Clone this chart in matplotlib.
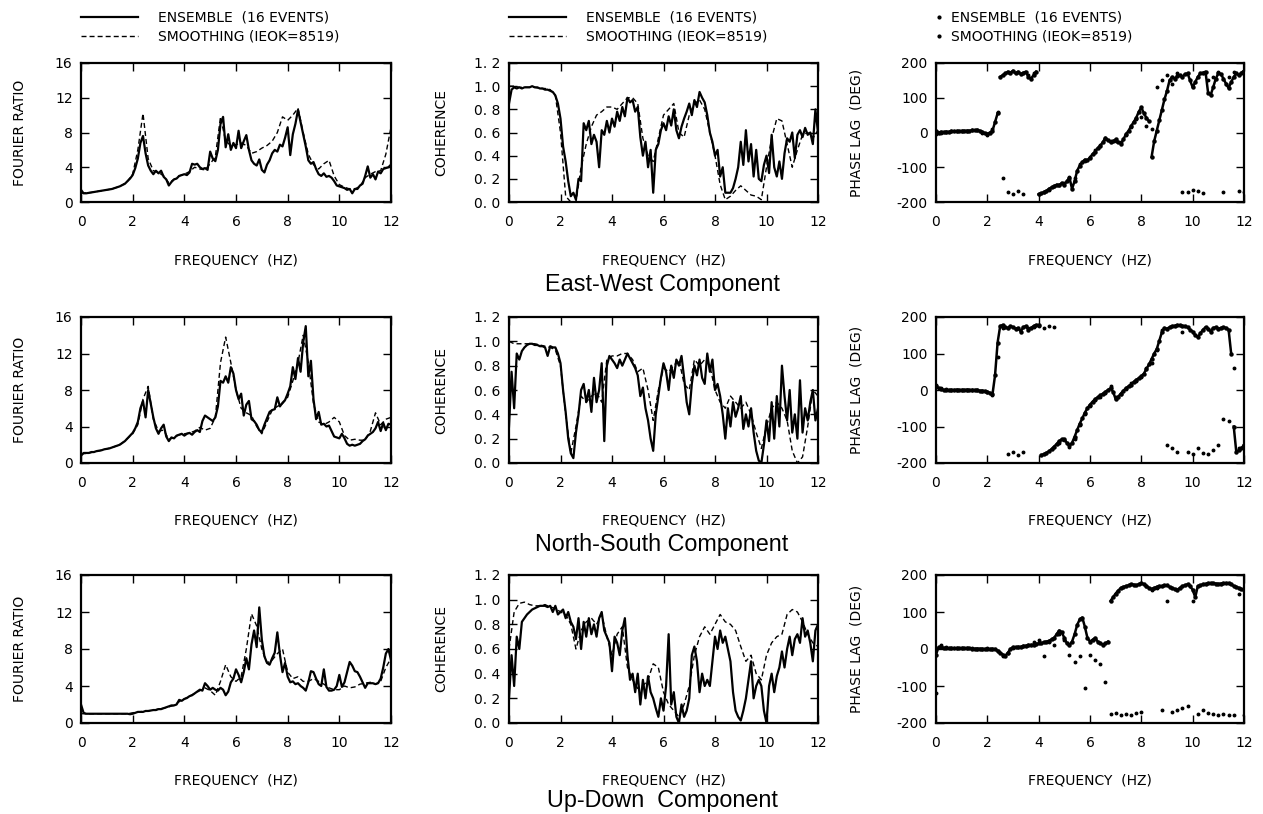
import numpy as np
import matplotlib
matplotlib.use("Agg")
import matplotlib.pyplot as plt
from matplotlib.lines import Line2D

plt.rcParams['font.family'] = ['DejaVu Sans']

W, H = 1263, 814
FS = 10

# frequency grids (Hz): ensemble every 0.1 Hz, smoothing every 0.2 Hz
freq_ens = np.linspace(0, 12, 121)
freq_smooth = np.linspace(0, 12, 61)

freq_ticks = [0, 2, 4, 6, 8, 10, 12]
freq_tick_labels = ["0", "2", "4", "6", "8", "10", "12"]
ratio_ticks = [0, 4, 8, 12, 16]
ratio_tick_labels = ["0", "4", "8", "12", "16"]
coh_ticks = [0.0, 0.2, 0.4, 0.6, 0.8, 1.0, 1.2]
coh_tick_labels = ["0. 0", "0. 2", "0. 4", "0. 6", "0. 8", "1. 0", "1. 2"]
phase_ticks = [-200, -100, 0, 100, 200]
phase_tick_labels = ["-200", "-100", "0", "100", "200"]

components = ["East-West Component", "North-South Component", "Up-Down  Component"]

# ---------------- East-West ----------------
ew_ratio_ens = [
    1.4, 1.0, 1.0, 1.05, 1.1, 1.15, 1.2, 1.25, 1.3, 1.35,
    1.4, 1.45, 1.5, 1.6, 1.7, 1.8, 1.95, 2.1, 2.4, 2.7,
    3.1, 3.9, 5.0, 6.8, 7.6, 5.6, 4.2, 3.6, 3.2, 3.6,
    3.3, 3.6, 2.9, 2.6, 1.9, 2.3, 2.6, 2.7, 3.0, 3.1,
    3.2, 3.1, 3.4, 4.4, 4.3, 4.4, 4.0, 3.8, 3.9, 3.7,
    5.8, 5.0, 4.7, 6.0, 9.0, 9.8, 6.3, 7.8, 6.0, 6.8,
    6.2, 8.2, 6.2, 7.0, 7.7, 6.0, 4.8, 4.4, 4.2, 4.9,
    3.7, 3.4, 4.3, 4.8, 5.6, 6.0, 5.8, 6.6, 6.4, 7.4,
    8.6, 5.4, 7.8, 9.0, 10.6, 9.2, 7.8, 6.4, 4.8, 4.4,
    4.6, 3.8, 3.2, 3.0, 3.3, 2.9, 3.0, 2.8, 2.4, 1.9,
    1.8, 1.7, 1.6, 1.4, 1.5, 1.0, 1.5, 1.5, 1.9, 2.1,
    3.0, 4.1, 2.8, 3.2, 2.6, 3.5, 3.3, 3.8, 3.9, 4.0,
    4.3]
ew_ratio_smooth = [
    1.0, 1.05, 1.1, 1.2, 1.3,
    1.4, 1.5, 1.7, 1.95, 2.4,
    3.2, 6.0, 10.2, 5.0, 3.6,
    3.4, 3.0, 2.2, 2.6, 3.0,
    3.2, 3.5, 4.0, 3.8, 3.7,
    4.4, 5.2, 9.8, 7.0, 6.5,
    6.6, 6.8, 6.5, 5.6, 5.8,
    6.2, 6.5, 7.0, 8.0, 9.8,
    9.4, 10.0, 10.8, 8.0, 5.5,
    4.3, 3.8, 4.4, 4.8, 3.0,
    2.0, 1.7, 1.5, 1.5, 1.8,
    2.8, 3.2, 3.5, 3.6, 5.5,
    8.6]
ew_coh_ens = [
    0.85, 0.97, 0.99, 0.98, 0.99, 0.98, 0.99, 0.99, 0.99, 1.0,
    0.99, 0.99, 0.98, 0.98, 0.97, 0.97, 0.96, 0.95, 0.92, 0.85,
    0.72, 0.48, 0.35, 0.18, 0.05, 0.08, 0.02, 0.2, 0.18, 0.68,
    0.62, 0.7, 0.5, 0.58, 0.52, 0.3, 0.62, 0.58, 0.7, 0.6,
    0.72, 0.65, 0.78, 0.7, 0.82, 0.74, 0.9, 0.86, 0.88, 0.78,
    0.82, 0.56, 0.4, 0.52, 0.3, 0.45, 0.08, 0.45, 0.5, 0.62,
    0.68, 0.62, 0.74, 0.66, 0.8, 0.62, 0.55, 0.65, 0.72, 0.78,
    0.85, 0.75, 0.88, 0.82, 0.95, 0.9, 0.86, 0.75, 0.6, 0.52,
    0.4, 0.45, 0.22, 0.3, 0.08, 0.08, 0.08, 0.12, 0.2, 0.3,
    0.52, 0.32, 0.62, 0.35, 0.5, 0.22, 0.45, 0.2, 0.18, 0.32,
    0.4, 0.25, 0.58, 0.3, 0.22, 0.35, 0.2, 0.42, 0.55, 0.52,
    0.6, 0.38, 0.58, 0.62, 0.56, 0.64, 0.58, 0.6, 0.5, 0.8,
    0.6]
ew_coh_smooth = [
    1.0, 1.0, 0.99, 0.99, 0.99,
    0.99, 0.98, 0.98, 0.97, 0.92,
    0.6, 0.05, 0.0, 0.0, 0.3,
    0.5, 0.65, 0.75, 0.78, 0.82,
    0.82, 0.8, 0.85, 0.9, 0.9,
    0.85, 0.55, 0.4, 0.35, 0.55,
    0.75, 0.8, 0.85, 0.6, 0.56,
    0.75, 0.85, 0.88, 0.8, 0.6,
    0.4, 0.15, 0.02, 0.05, 0.1,
    0.14, 0.1, 0.06, 0.05, 0.02,
    0.3, 0.55, 0.72, 0.7, 0.5,
    0.3, 0.45, 0.58, 0.6, 0.55,
    0.62]
ew_phase_ens = [
    5, 0, 2, 1, 2, 2, 3, 3, 3, 4,
    4, 5, 5, 5, 6, 6, 7, 5, 2, -2,
    -4, 0, 5, 30, 55, 160, 165, 170, 175, 172,
    178, 170, 175, 168, 172, 175, 160, 155, 165, 175,
    -178, -175, -172, -168, -162, -158, -155, -150, -152, -145,
    -150, -140, -130, -162, -140, -110, -95, -85, -78, -80,
    -72, -62, -55, -45, -38, -28, -15, -22, -28, -25,
    -20, -28, -32, -20, -5, 5, 18, 30, 42, 60,
    72, 55, 42, 32, -70, -25, 5, 35, 65, 95,
    120, 150, 160, 155, 162, 165, 160, 168, 170, 150,
    130, 145, 160, 170, 172, 175, 115, 108, 130, 155,
    170, 168, 155, 140, 128, 145, 160, 170, 165, 172,
    178]
ew_phase_smooth = [
    -5, 0, 2, 3, 4,
    4, 5, 6, 6, 0,
    -6, 10, 60, -130, -170,
    -178, -168, -178, 165, 170,
    -178, -170, -165, -155, -150,
    -145, -128, -130, -92, -82,
    -70, -50, -35, -18, -25,
    -25, -28, -8, 15, 38,
    45, 20, 10, 130, 150,
    165, 140, 170, -170, -172,
    -165, -168, -175, 150, 160,
    175, -172, 160, 175, -168,
    -170]

# ---------------- North-South ----------------
ns_ratio_ens = [
    0.8, 1.1, 1.1, 1.1, 1.2, 1.2, 1.3, 1.35, 1.4, 1.5,
    1.55, 1.6, 1.7, 1.8, 1.9, 2.0, 2.2, 2.4, 2.7, 3.0,
    3.3, 3.8, 4.5, 6.0, 6.8, 5.0, 8.0, 6.5, 5.0, 3.8,
    3.2, 3.8, 4.2, 2.9, 2.4, 2.8, 2.7, 3.0, 3.1, 3.2,
    3.0, 3.2, 3.3, 3.1, 3.4, 3.6, 3.4, 4.6, 5.2, 5.0,
    4.8, 4.6, 5.0, 6.2, 9.0, 8.8, 9.5, 8.8, 10.5, 9.8,
    8.0, 7.0, 7.6, 5.2, 6.4, 6.8, 4.8, 4.6, 4.2, 3.6,
    3.4, 4.2, 4.9, 5.6, 5.8, 5.9, 7.2, 6.2, 6.6, 6.9,
    7.6, 8.4, 10.5, 9.2, 11.5, 10.0, 13.2, 15.0, 9.5, 11.2,
    7.0, 4.8, 5.6, 4.2, 4.3, 4.0, 4.1, 3.5, 2.9, 2.8,
    2.7, 3.2, 2.7, 2.1, 1.9, 2.0, 1.9, 2.0, 2.1, 2.4,
    2.6, 3.0, 3.2, 3.4, 3.8, 4.5, 3.5, 4.4, 3.6, 4.3,
    4.2]
ns_ratio_smooth = [
    1.0, 1.05, 1.15, 1.25, 1.4,
    1.55, 1.7, 1.9, 2.2, 2.7,
    3.2, 4.2, 7.0, 8.4, 4.8,
    3.5, 3.6, 2.6, 2.8, 3.1,
    3.2, 3.3, 3.5, 3.9, 3.6,
    3.8, 5.0, 11.0, 13.8, 11.0,
    8.0, 6.0, 5.5, 5.2, 4.0,
    3.2, 4.5, 5.8, 6.2, 6.5,
    7.2, 9.0, 11.0, 14.0, 11.0,
    6.5, 4.5, 4.2, 4.5, 5.0,
    4.5, 3.0, 2.5, 2.6, 2.5,
    2.5, 3.5, 5.5, 4.2, 4.8,
    5.0]
ns_coh_ens = [
    0.3, 0.75, 0.45, 0.9, 0.85, 0.92, 0.95, 0.97, 0.98, 0.98,
    0.97, 0.97, 0.96, 0.96, 0.95, 0.88, 0.96, 0.95, 0.95, 0.9,
    0.82, 0.6, 0.42, 0.2, 0.08, 0.04, 0.25, 0.4, 0.6, 0.65,
    0.5, 0.6, 0.42, 0.7, 0.5, 0.6, 0.82, 0.18, 0.8, 0.88,
    0.85, 0.82, 0.78, 0.85, 0.8, 0.85, 0.9, 0.86, 0.82, 0.78,
    0.72, 0.55, 0.62, 0.45, 0.35, 0.2, 0.1, 0.4, 0.55, 0.7,
    0.82, 0.75, 0.6, 0.8, 0.7, 0.85, 0.8, 0.88, 0.7, 0.5,
    0.4, 0.65, 0.8, 0.72, 0.85, 0.7, 0.65, 0.9, 0.75, 0.85,
    0.6, 0.65, 0.55, 0.4, 0.2, 0.45, 0.3, 0.5, 0.38, 0.45,
    0.55, 0.28, 0.4, 0.3, 0.45, 0.25, 0.1, 0.02, 0.0, 0.15,
    0.35, 0.18, 0.5, 0.2, 0.55, 0.3, 0.8, 0.55, 0.35, 0.6,
    0.25, 0.4, 0.2, 0.68, 0.25, 0.45, 0.35, 0.5, 0.6, 0.35,
    0.45]
ns_coh_smooth = [
    1.0, 0.98, 0.98, 0.98, 0.98,
    0.98, 0.97, 0.96, 0.95, 0.93,
    0.8, 0.4, 0.08, 0.3, 0.55,
    0.5, 0.55, 0.58, 0.5, 0.85,
    0.88, 0.88, 0.9, 0.9, 0.85,
    0.75, 0.78, 0.6, 0.35, 0.6,
    0.78, 0.75, 0.8, 0.85, 0.65,
    0.6, 0.85, 0.8, 0.85, 0.8,
    0.6, 0.5, 0.45, 0.55, 0.5,
    0.45, 0.5, 0.4, 0.25, 0.12,
    0.3, 0.45, 0.5, 0.45, 0.35,
    0.1, 0.0, 0.05, 0.3, 0.6,
    0.55]
ns_phase_ens = [
    10, 5, 2, 0, 0, 0, 0, 0, 1, 0,
    0, 0, 1, 0, 0, 0, 0, -2, -2, -3,
    -5, -8, -12, 40, 130, 175, 178, 172, 170, 175,
    172, 168, 170, 160, 172, 175, 165, 170, 175, 178,
    178, -178, -176, -172, -168, -162, -155, -148, -140, -135,
    -135, -145, -152, -145, -128, -110, -92, -78, -62, -50,
    -40, -32, -25, -20, -15, -10, -5, 0, 5, -5,
    -25, -18, -10, -2, 5, 10, 15, 22, 28, 32,
    38, 45, 58, 70, 85, 100, 112, 135, 158, 170,
    168, 172, 175, 176, 178, 177, 176, 175, 172, 165,
    160, 150, 145, 155, 165, 172, 168, 160, 170, 172,
    168, 170, 172, 170, 165, 100, -100, -170, -165, -160,
    -150]
ns_phase_smooth = [
    15, 5, 2, 0, 0,
    0, 0, 0, 0, -2,
    -5, -15, 90, 170, -175,
    -170, -178, -170, 170, 172,
    175, 170, 175, 172, -145,
    -138, -155, -135, -95, -65,
    -45, -28, -18, -8, 10,
    -20, -12, 3, 18, 25,
    35, 60, 75, 110, 165,
    -150, -160, -170, 160, -170,
    -175, -160, -172, -175, -165,
    -150, -80, -85, 60, -160,
    -155]

# ---------------- Up-Down ----------------
ud_ratio_ens = [
    2.0, 1.1, 1.0, 1.0, 1.0, 1.0, 1.0, 1.0, 1.0, 1.0,
    1.0, 1.0, 1.0, 1.0, 1.0, 1.0, 1.0, 1.0, 1.0, 0.95,
    1.0, 1.1, 1.2, 1.2, 1.2, 1.3, 1.3, 1.35, 1.4, 1.4,
    1.5, 1.5, 1.6, 1.7, 1.8, 1.9, 1.9, 2.0, 2.5, 2.4,
    2.6, 2.7, 2.9, 3.0, 3.2, 3.4, 3.6, 3.5, 4.3, 4.0,
    3.6, 3.8, 3.6, 3.5, 3.8, 3.6, 3.0, 3.4, 4.4, 4.8,
    5.8, 5.2, 4.4, 5.5, 7.0, 5.8, 8.5, 10.0, 8.2, 12.5,
    9.0, 7.2, 6.5, 6.3, 7.0, 7.6, 9.8, 7.4, 5.5, 6.5,
    5.0, 4.4, 4.5, 4.2, 4.3, 4.0, 3.8, 3.5, 4.4, 5.6,
    5.5, 4.8, 4.2, 4.0, 5.8, 3.9, 3.5, 3.5, 3.6, 4.0,
    5.2, 3.9, 4.4, 5.5, 6.6, 6.2, 5.6, 5.5, 5.0, 4.4,
    3.8, 4.3, 4.3, 4.3, 4.2, 4.3, 4.8, 6.0, 7.5, 8.0,
    6.8]
ud_ratio_smooth = [
    1.0, 1.0, 1.0, 1.0, 1.0,
    1.0, 1.0, 1.0, 1.0, 1.0,
    1.1, 1.2, 1.25, 1.3, 1.4,
    1.5, 1.6, 1.75, 1.9, 2.3,
    2.6, 2.9, 3.2, 3.5, 3.8,
    3.5, 3.0, 4.5, 6.3, 5.0,
    4.5, 5.0, 8.0, 11.8, 10.5,
    8.0, 6.5, 6.8, 7.5, 8.0,
    5.5, 4.8, 5.0, 4.5, 4.5,
    4.8, 4.5, 4.2, 3.8, 3.6,
    3.6, 4.0, 3.8, 3.9, 4.2,
    4.3, 4.4, 4.2, 4.5, 6.0,
    7.0]
ud_coh_ens = [
    0.2, 0.55, 0.3, 0.7, 0.6, 0.82, 0.85, 0.88, 0.9, 0.92,
    0.93, 0.94, 0.95, 0.95, 0.95, 0.94, 0.95, 0.9, 0.95, 0.88,
    0.9, 0.92, 0.85, 0.9, 0.82, 0.78, 0.68, 0.85, 0.6, 0.82,
    0.7, 0.85, 0.72, 0.8, 0.7, 0.85, 0.9, 0.75, 0.7, 0.65,
    0.42, 0.7, 0.65, 0.55, 0.75, 0.85, 0.55, 0.35, 0.4, 0.25,
    0.4, 0.15, 0.35, 0.2, 0.38, 0.25, 0.2, 0.12, 0.05, 0.2,
    0.1, 0.3, 0.72, 0.15, 0.25, 0.05, 0.0, 0.15, 0.05, 0.1,
    0.2, 0.55, 0.62, 0.5, 0.25, 0.4, 0.3, 0.35, 0.3, 0.5,
    0.7, 0.6, 0.75, 0.65, 0.7, 0.6, 0.5, 0.25, 0.1, 0.05,
    0.02, 0.1, 0.2, 0.35, 0.5, 0.2, 0.3, 0.35, 0.3, 0.1,
    0.0, 0.3, 0.4, 0.25, 0.38, 0.45, 0.58, 0.45, 0.6, 0.7,
    0.55, 0.68, 0.72, 0.65, 0.85, 0.7, 0.75, 0.65, 0.5, 0.75,
    0.8]
ud_coh_smooth = [
    0.6, 0.9, 0.97, 0.98, 0.96,
    0.95, 0.95, 0.96, 0.94, 0.93,
    0.9, 0.88, 0.8, 0.6, 0.75,
    0.82, 0.85, 0.8, 0.88, 0.7,
    0.55, 0.72, 0.78, 0.45, 0.35,
    0.28, 0.3, 0.35, 0.48, 0.45,
    0.25, 0.15, 0.1, 0.05, 0.15,
    0.3, 0.55, 0.7, 0.78, 0.72,
    0.8, 0.88, 0.82, 0.8, 0.75,
    0.62, 0.5, 0.55, 0.4, 0.35,
    0.55, 0.65, 0.7, 0.72, 0.88,
    0.92, 0.9, 0.82, 0.72, 0.65,
    0.62]
ud_phase_ens = [
    -15, 5, 5, 3, 2, 2, 2, 2, 2, 2,
    2, 2, 2, 2, 1, 1, 1, 1, 0, 0,
    0, 0, 0, 0, -5, -10, -15, -18, -10, 0,
    5, 5, 5, 6, 8, 9, 10, 11, 12, 14,
    15, 16, 18, 20, 22, 26, 30, 40, 50, 45,
    30, 15, 10, 20, 40, 65, 80, 85, 60, 30,
    20, 25, 30, 20, 15, 12, 15, 20, 130, 140,
    150, 158, 165, 168, 170, 172, 175, 174, 172, 175,
    178, 175, 170, 165, 162, 165, 168, 170, 170, 172,
    172, 168, 165, 162, 160, 165, 170, 172, 175, 170,
    160, 140, 170, 172, 175, 176, 178, 178, 178, 177,
    176, 177, 178, 178, 178, 175, 170, 168, 165, 162,
    160]
ud_phase_smooth = [
    -120, 10, 5, 3, 2,
    2, 2, 2, 0, 0,
    2, 0, -5, -18, -12,
    2, 5, 8, 10, 20,
    25, -20, 20, 10, 40,
    25, -15, -35, -20, -105,
    -15, -30, -40, -90, -175,
    -172, -178, -175, -178, -172,
    -170, 170, 160, 165, -165,
    130, -170, -165, -160, -155,
    130, -175, -165, -172, -175,
    -178, -175, -178, -178, 150,
    -178]

rows = [
    (ew_ratio_ens, ew_ratio_smooth, ew_coh_ens, ew_coh_smooth, ew_phase_ens, ew_phase_smooth),
    (ns_ratio_ens, ns_ratio_smooth, ns_coh_ens, ns_coh_smooth, ns_phase_ens, ns_phase_smooth),
    (ud_ratio_ens, ud_ratio_smooth, ud_coh_ens, ud_coh_smooth, ud_phase_ens, ud_phase_smooth),
]

# panel boxes in pixels
col_left = [81, 509, 936]
col_width = [310, 309, 308]
row_top = [63, 317, 575]
row_bottom = [202, 463, 723]
title_y = [285, 545, 801]
ylabel_right = [27, 448, 864]

DASH = (0, (3.6, 2.2))


def break_wraps(x, y, limit=100):
    # lift the pen where the phase jumps across the +-180 wrap
    x = np.asarray(x, float)
    y = np.asarray(y, float)
    idx = np.where(np.abs(np.diff(y)) > limit)[0] + 1
    return np.insert(x, idx, np.nan), np.insert(y, idx, np.nan)


def style_axes(ax, h_px, ticks, labels, ylim, ylabel, col):
    ax.set_xlim(0, 12)
    ax.set_ylim(*ylim)
    ax.set_xticks(freq_ticks)
    ax.set_xticklabels(freq_tick_labels)
    ax.set_yticks(ticks)
    ax.set_yticklabels(labels)
    ax.tick_params(direction='in', length=6, width=1, top=True, right=True,
                   labelsize=FS)
    ax.tick_params(axis='x', pad=9.5)
    ax.tick_params(axis='y', pad=6)
    for s in ax.spines.values():
        s.set_linewidth(1.6)
    ax.set_xlabel("FREQUENCY  (HZ)", fontsize=FS)
    ax.xaxis.set_label_coords(0.5, -51 / h_px)
    ax.set_ylabel(ylabel, fontsize=FS)
    ax.yaxis.set_label_coords((ylabel_right[col] - col_left[col]) / col_width[col], 0.5)


fig = plt.figure(figsize=(W / 100, H / 100), dpi=100)

for r, (ratio_e, ratio_s, coh_e, coh_s, ph_e, ph_s) in enumerate(rows):
    h_px = row_bottom[r] - row_top[r]
    axes = []
    for c in range(3):
        ax = fig.add_axes([col_left[c] / W, 1 - row_bottom[r] / H,
                           col_width[c] / W, h_px / H])
        axes.append(ax)
    ax1, ax2, ax3 = axes

    ax1.plot(freq_ens, ratio_e, color='k', lw=1.6, label="ENSEMBLE  (16 EVENTS)")
    ax1.plot(freq_smooth, ratio_s, color='k', lw=1.0, ls=DASH, label="SMOOTHING (IEOK=8519)")
    style_axes(ax1, h_px, ratio_ticks, ratio_tick_labels, (0, 16), "FOURIER RATIO", 0)

    ax2.plot(freq_ens, coh_e, color='k', lw=1.6, label="ENSEMBLE  (16 EVENTS)")
    ax2.plot(freq_smooth, coh_s, color='k', lw=1.0, ls=DASH, label="SMOOTHING (IEOK=8519)")
    style_axes(ax2, h_px, coh_ticks, coh_tick_labels, (0, 1.2), "COHERENCE", 1)

    xe, ye = break_wraps(freq_ens, ph_e)
    ax3.plot(xe, ye, color='k', lw=1.8, marker='o', ms=2.2)
    ax3.plot(freq_smooth, ph_s, color='k', ls='none', marker='o', ms=1.8)
    style_axes(ax3, h_px, phase_ticks, phase_tick_labels, (-200, 200), "PHASE LAG  (DEG)", 2)

    fig.text(662 / W, 1 - title_y[r] / H, components[r], ha='center', va='center',
             fontsize=16.8, family='Liberation Sans')

    if r == 0:
        leg_y = (row_bottom[0] - 44) / h_px
        for ax in (ax1, ax2):
            ax.legend(loc='lower left', bbox_to_anchor=(0.0, leg_y), frameon=False,
                      fontsize=FS, borderpad=0, borderaxespad=0, handlelength=4.1,
                      handletextpad=1.45, labelspacing=0.4)
        dots = [Line2D([], [], color='k', ls='none', marker='o', ms=2.0) for _ in range(2)]
        ax3.legend(dots, ["ENSEMBLE  (16 EVENTS)", "SMOOTHING (IEOK=8519)"],
                   loc='lower left', bbox_to_anchor=(0.0, leg_y), frameon=False,
                   fontsize=FS, borderpad=0, borderaxespad=0, handlelength=0.45,
                   handletextpad=0.6, labelspacing=0.4)

fig.savefig("out.png", dpi=100)
